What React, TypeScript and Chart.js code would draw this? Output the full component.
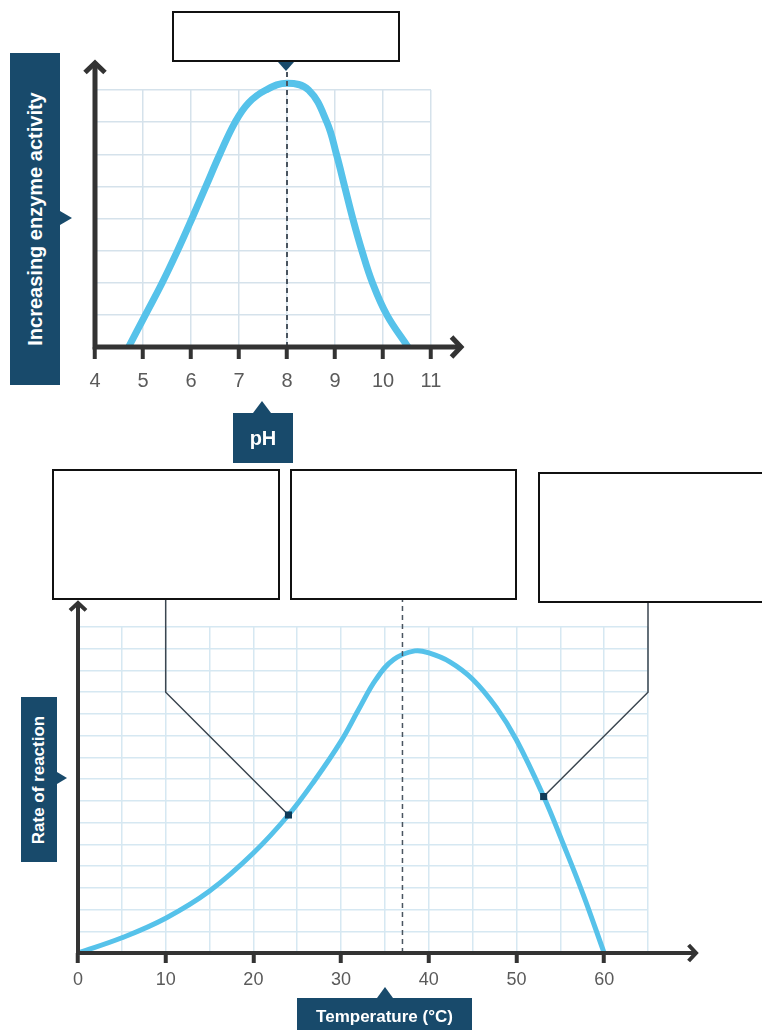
import React, { useEffect, useRef } from 'react';
import { Chart, registerables } from 'chart.js';

Chart.register(...registerables);

// pH curve
const phValues = [4.7, 5.05, 5.4, 5.72, 6.02, 6.31, 6.6, 6.92, 7.2, 7.56, 8.0, 8.45, 8.83, 9.03, 9.2, 9.37, 9.56, 9.78, 10.08, 10.52];
const enzymeActivity = [0, 1, 2, 3, 4, 5, 6, 7, 7.6, 8.0, 8.21, 8.0, 7, 6, 5, 4, 3, 2, 1, 0];
const phTickLabels = [4, 5, 6, 7, 8, 9, 10, 11];
const optimumPh = 8;

// Temperature curve
const temperatures = [0, 5, 10, 15, 20, 24, 27, 30, 32, 34, 36, 38.4, 40.1, 42.4, 45, 47.7, 50, 53.1, 55.3, 57.6, 60];
const reactionRate = [0, 0.7, 1.6, 2.85, 4.6, 6.35, 7.95, 9.75, 11.2, 12.6, 13.5, 13.9, 13.8, 13.4, 12.6, 11.3, 9.8, 7.2, 5.05, 2.7, 0];
const tempTickLabels = [0, 10, 20, 30, 40, 50, 60];
const optimumTemp = 37;
const markedTemps = [24, 53.1];
const markedRates = [6.35, 7.2];
const calloutElbowTemps = [10, 65];
const calloutElbowRate = 12;

const NAVY = '#184a6b';
const CURVE = '#56c2ea';
const AXIS = '#333333';
const FONT = "'Liberation Sans', Arial, Helvetica, sans-serif";

function drawArrowAxes(ctx: CanvasRenderingContext2D, x0: number, y0: number, yTip: number, xTip: number, lw: number, head: number) {
  ctx.save();
  ctx.strokeStyle = AXIS;
  ctx.lineWidth = lw;
  ctx.lineCap = 'butt';
  ctx.lineJoin = 'miter';
  ctx.beginPath();
  ctx.moveTo(x0, y0);
  ctx.lineTo(x0, yTip + 1);
  ctx.moveTo(x0 - lw / 2, y0);
  ctx.lineTo(xTip - 1, y0);
  ctx.stroke();
  ctx.beginPath();
  ctx.moveTo(x0 - head, yTip + head * 1.05);
  ctx.lineTo(x0, yTip + 1);
  ctx.lineTo(x0 + head, yTip + head * 1.05);
  ctx.moveTo(xTip - head * 1.05, y0 - head);
  ctx.lineTo(xTip - 1, y0);
  ctx.lineTo(xTip - head * 1.05, y0 + head);
  ctx.stroke();
  ctx.restore();
}

function drawDashed(ctx: CanvasRenderingContext2D, x: number, yFrom: number, yTo: number, lw: number) {
  ctx.save();
  ctx.strokeStyle = '#4a5560';
  ctx.lineWidth = lw;
  ctx.setLineDash([5, 4]);
  ctx.beginPath();
  ctx.moveTo(x, yFrom);
  ctx.lineTo(x, yTo);
  ctx.stroke();
  ctx.restore();
}

const phDecor = {
  id: 'phDecor',
  afterDatasetsDraw(chart: any) {
    const { ctx, chartArea, scales } = chart;
    const px = scales.x.getPixelForValue(optimumPh);
    drawDashed(ctx, px, chartArea.bottom, 62, 2);
    drawArrowAxes(ctx, chartArea.left, chartArea.bottom, 62, 462, 5, 10);
  },
};

const tempDecor = {
  id: 'tempDecor',
  beforeDatasetsDraw(chart: any) {
    const { ctx, scales } = chart;
    const boxBottoms = [10, 13];
    ctx.save();
    ctx.strokeStyle = '#3b4650';
    ctx.lineWidth = 1.5;
    for (let i = 0; i < markedTemps.length; i++) {
      const mx = scales.x.getPixelForValue(markedTemps[i]);
      const my = scales.y.getPixelForValue(markedRates[i]);
      const ex = scales.x.getPixelForValue(calloutElbowTemps[i]);
      const ey = scales.y.getPixelForValue(calloutElbowRate);
      ctx.beginPath();
      ctx.moveTo(mx, my);
      ctx.lineTo(ex, ey);
      ctx.lineTo(ex, boxBottoms[i]);
      ctx.stroke();
    }
    ctx.restore();
  },
  afterDatasetsDraw(chart: any) {
    const { ctx, chartArea, scales } = chart;
    const px = scales.x.getPixelForValue(optimumTemp);
    drawDashed(ctx, px, chartArea.bottom, 10, 1.5);
    drawArrowAxes(ctx, chartArea.left, chartArea.bottom, 12, 697, 4, 8);
  },
};

export default function App() {
  const topRef = useRef<HTMLCanvasElement>(null);
  const bottomRef = useRef<HTMLCanvasElement>(null);

  useEffect(() => {
    const phChart = new Chart(topRef.current as HTMLCanvasElement, {
      type: 'scatter',
      data: {
        datasets: [
          {
            data: phValues.map((x, i) => ({ x, y: enzymeActivity[i] })),
            showLine: true,
            borderColor: CURVE,
            borderWidth: 7,
            pointRadius: 0,
            tension: 0.4,
            clip: false,
          } as any,
        ],
      },
      options: {
        responsive: false,
        animation: false,
        devicePixelRatio: 1,
        layout: { padding: { left: 0, top: 90, right: 39, bottom: 0 } },
        plugins: { legend: { display: false }, tooltip: { enabled: false } },
        scales: {
          x: {
            type: 'linear',
            min: phTickLabels[0],
            max: phTickLabels[phTickLabels.length - 1],
            afterFit: (s: any) => { s.height = 133; },
            border: { display: false },
            grid: { color: '#d5e2eb', lineWidth: 1.5, tickColor: AXIS, tickWidth: 4, tickLength: 12 },
            ticks: {
              stepSize: 1,
              autoSkip: false,
              maxRotation: 0,
              padding: 10,
              color: '#5a5a5a',
              font: { family: FONT, size: 20 },
              callback: (v: any) => (phTickLabels.includes(v) ? String(v) : ''),
            },
          },
          y: {
            type: 'linear',
            min: 0,
            max: 8,
            afterFit: (s: any) => { s.width = 95; },
            border: { display: false },
            grid: { color: '#d5e2eb', lineWidth: 1.5, drawTicks: false },
            ticks: { stepSize: 1, display: false },
          },
        },
      },
      plugins: [phDecor],
    } as any);

    const tempChart = new Chart(bottomRef.current as HTMLCanvasElement, {
      type: 'scatter',
      data: {
        datasets: [
          {
            data: markedTemps.map((x, i) => ({ x, y: markedRates[i] })),
            showLine: false,
            pointStyle: 'rect',
            pointRadius: 5,
            backgroundColor: '#0e3b59',
            borderWidth: 0,
            order: 0,
          } as any,
          {
            data: temperatures.map((x, i) => ({ x, y: reactionRate[i] })),
            showLine: true,
            borderColor: CURVE,
            borderWidth: 5,
            pointRadius: 0,
            tension: 0.4,
            clip: false,
            order: 1,
          } as any,
        ],
      },
      options: {
        responsive: false,
        animation: false,
        devicePixelRatio: 1,
        layout: { padding: { left: 0, top: 37, right: 114, bottom: 0 } },
        plugins: { legend: { display: false }, tooltip: { enabled: false } },
        scales: {
          x: {
            type: 'linear',
            min: 0,
            max: 65,
            afterFit: (s: any) => { s.height = 77; },
            border: { display: false },
            grid: {
              color: '#d6e8f2',
              lineWidth: 1.5,
              tickColor: (c: any) => (c.tick && tempTickLabels.includes(c.tick.value) ? AXIS : 'rgba(0,0,0,0)'),
              tickWidth: 4,
              tickLength: 10,
            },
            ticks: {
              stepSize: 5,
              autoSkip: false,
              maxRotation: 0,
              padding: 6,
              color: '#5a5a5a',
              font: { family: FONT, size: 18 },
              callback: (v: any) => (tempTickLabels.includes(v) ? String(v) : ''),
            },
          },
          y: {
            type: 'linear',
            min: 0,
            max: 15,
            afterFit: (s: any) => { s.width = 78; },
            border: { display: false },
            grid: { color: '#d6e8f2', lineWidth: 1.5, drawTicks: false },
            ticks: { stepSize: 1, display: false },
          },
        },
      },
      plugins: [tempDecor],
    } as any);

    return () => {
      phChart.destroy();
      tempChart.destroy();
    };
  }, []);

  const blankBox = (left: number, top: number, width: number, height: number): React.CSSProperties => ({
    position: 'absolute', left, top, width, height, boxSizing: 'border-box',
    border: '2px solid #111', background: '#fff',
  });
  const navyBox = (left: number, top: number, width: number, height: number): React.CSSProperties => ({
    position: 'absolute', left, top, width, height, background: NAVY,
  });
  const rotated: React.CSSProperties = {
    position: 'absolute', left: '50%', top: '50%', whiteSpace: 'nowrap',
    transform: 'translate(-50%, -50%) rotate(-90deg)', color: '#fff', fontWeight: 'bold',
  };
  const centered: React.CSSProperties = {
    position: 'absolute', left: 0, right: 0, textAlign: 'center', whiteSpace: 'nowrap',
    color: '#fff', fontWeight: 'bold',
  };

  return (
    <div style={{ position: 'absolute', left: 0, top: 0, width: 762, height: 1030, overflow: 'hidden', background: '#fff', fontFamily: FONT }}>
      <canvas ref={topRef} width={470} height={480} style={{ position: 'absolute', left: 0, top: 0 }} />
      <canvas ref={bottomRef} width={762} height={440} style={{ position: 'absolute', left: 0, top: 590 }} />

      {/* pH chart labels */}
      <div style={blankBox(172, 11, 228, 51)} />
      <div style={{ position: 'absolute', left: 278, top: 62, width: 0, height: 0, borderLeft: '8px solid transparent', borderRight: '8px solid transparent', borderTop: `9px solid ${NAVY}` }} />
      <div style={navyBox(10, 53, 50, 332)}>
        <span style={{ ...rotated, fontSize: 20 }}>Increasing enzyme activity</span>
      </div>
      <div style={{ position: 'absolute', left: 60, top: 211, width: 0, height: 0, borderTop: '7.5px solid transparent', borderBottom: '7.5px solid transparent', borderLeft: `12px solid ${NAVY}` }} />
      <div style={navyBox(233, 413, 60, 50)}>
        <span style={{ ...centered, top: 13, fontSize: 20, lineHeight: '24px' }}>pH</span>
      </div>
      <div style={{ position: 'absolute', left: 253, top: 401, width: 0, height: 0, borderLeft: '9.5px solid transparent', borderRight: '9.5px solid transparent', borderBottom: `12px solid ${NAVY}` }} />

      {/* Temperature chart labels */}
      <div style={blankBox(52, 469, 228, 131)} />
      <div style={blankBox(290, 469, 227, 131)} />
      <div style={blankBox(538, 472, 240, 131)} />
      <div style={navyBox(21, 697, 36, 165)}>
        <span style={{ ...rotated, fontSize: 17 }}>Rate of reaction</span>
      </div>
      <div style={{ position: 'absolute', left: 57, top: 772, width: 0, height: 0, borderTop: '6px solid transparent', borderBottom: '6px solid transparent', borderLeft: `10px solid ${NAVY}` }} />
      <div style={navyBox(297, 998, 175, 40)}>
        <span style={{ ...centered, top: 8, fontSize: 17, lineHeight: '22px' }}>Temperature (°C)</span>
      </div>
      <div style={{ position: 'absolute', left: 377, top: 987, width: 0, height: 0, borderLeft: '8px solid transparent', borderRight: '8px solid transparent', borderBottom: `11px solid ${NAVY}` }} />
    </div>
  );
}
